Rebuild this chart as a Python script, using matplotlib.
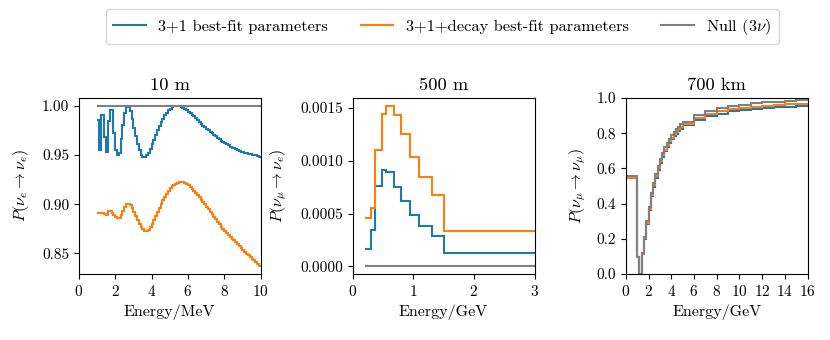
import numpy as np
import matplotlib
matplotlib.use("Agg")
import matplotlib.pyplot as plt
from matplotlib.ticker import FormatStrFormatter

plt.rcParams['font.family'] = ['cmr10', 'DejaVu Serif']
plt.rcParams['mathtext.fontset'] = 'cm'
plt.rcParams['axes.formatter.use_mathtext'] = True
plt.rcParams['axes.unicode_minus'] = False

# ---------------- Panel 1: 10 m (reactor) ----------------
e1_edges = np.round(np.arange(1.0, 10.0001, 0.1), 2)
p1_31 = [0.986, 0.955, 0.991, 0.991, 0.968, 0.953, 0.985, 0.996, 0.996, 0.972,
         0.955, 0.950, 0.952, 0.966, 0.981, 0.993, 0.999, 1.000, 0.995, 0.987,
         0.978, 0.969, 0.961, 0.955, 0.950, 0.948, 0.948, 0.950, 0.952, 0.956,
         0.961, 0.965, 0.970, 0.975, 0.980, 0.984, 0.987, 0.991, 0.993, 0.996,
         0.997, 0.999, 1.000, 1.000, 1.000, 1.000, 0.999, 0.998, 0.997, 0.996,
         0.994, 0.993, 0.991, 0.990, 0.988, 0.986, 0.984, 0.982, 0.980, 0.979,
         0.977, 0.975, 0.973, 0.972, 0.970, 0.969, 0.967, 0.966, 0.964, 0.963,
         0.962, 0.961, 0.960, 0.958, 0.957, 0.957, 0.956, 0.955, 0.954, 0.953,
         0.953, 0.952, 0.952, 0.951, 0.951, 0.950, 0.950, 0.950, 0.949, 0.948]
p1_decay = [0.891, 0.891, 0.891, 0.891, 0.890, 0.889, 0.893, 0.893, 0.891, 0.889,
            0.887, 0.886, 0.886, 0.889, 0.893, 0.897, 0.900, 0.900, 0.899, 0.896,
            0.892, 0.888, 0.884, 0.880, 0.877, 0.875, 0.873, 0.873, 0.874, 0.877,
            0.880, 0.884, 0.888, 0.892, 0.896, 0.900, 0.904, 0.907, 0.910, 0.913,
            0.916, 0.918, 0.920, 0.921, 0.922, 0.923, 0.923, 0.923, 0.922, 0.921,
            0.919, 0.917, 0.915, 0.913, 0.911, 0.909, 0.907, 0.904, 0.902, 0.900,
            0.897, 0.895, 0.892, 0.890, 0.887, 0.885, 0.882, 0.880, 0.877, 0.875,
            0.873, 0.871, 0.869, 0.867, 0.865, 0.863, 0.861, 0.859, 0.857, 0.855,
            0.853, 0.851, 0.849, 0.848, 0.846, 0.844, 0.843, 0.841, 0.839, 0.837]
p1_null = [1.0] * 90

# ---------------- Panel 2: 500 m (appearance) ----------------
e2_edges = [0.2, 0.3, 0.375, 0.475, 0.55, 0.675, 0.8, 0.95, 1.1, 1.3, 1.5, 3.0]
p2_31 = [0.000167, 0.00034, 0.00076, 0.00091, 0.00089, 0.00075,
         0.00062, 0.00049, 0.00038, 0.00029, 0.00013]
p2_decay = [0.000457, 0.00055, 0.00110, 0.00144, 0.00152, 0.00143,
            0.00125, 0.00104, 0.00085, 0.00068, 0.00033]
p2_null = [0.000002] * 11

# ---------------- Panel 3: 700 km (disappearance) ----------------
e3_edges = [0.0] + list(np.round(np.arange(1.0, 5.0001, 0.2), 1)) + list(np.arange(6.0, 16.0001, 1.0))
p3_null = [0.555, 0.098, 0.0, 0.118, 0.21, 0.30, 0.38, 0.46, 0.515, 0.568,
           0.614, 0.653, 0.689, 0.72, 0.746, 0.769, 0.788, 0.807, 0.822, 0.837,
           0.850, 0.865, 0.903, 0.926, 0.941, 0.955, 0.962, 0.970, 0.976, 0.979,
           0.983, 0.986]
p3_decay = [0.548, 0.097, 0.0, 0.114, 0.203, 0.291, 0.370, 0.449, 0.503, 0.555,
            0.601, 0.640, 0.675, 0.706, 0.732, 0.755, 0.774, 0.793, 0.808, 0.823,
            0.836, 0.853, 0.887, 0.909, 0.923, 0.936, 0.943, 0.951, 0.956, 0.959,
            0.963, 0.966]
p3_31 = [0.543, 0.096, 0.0, 0.111, 0.199, 0.286, 0.364, 0.442, 0.496, 0.547,
         0.593, 0.631, 0.666, 0.697, 0.722, 0.745, 0.764, 0.782, 0.797, 0.812,
         0.825, 0.844, 0.877, 0.897, 0.911, 0.924, 0.931, 0.938, 0.943, 0.946,
         0.950, 0.952]

labels = ["3+1 best-fit parameters", "3+1+decay best-fit parameters", r"Null ($3\nu$)"]
colors = ["#1f77b4", "#ff7f0e", "grey"]

fig = plt.figure(figsize=(8.3, 3.4), dpi=100)
w = 0.219
bottom = 0.194
h = 0.518
ax1 = fig.add_axes([0.095, bottom, w, h])
ax2 = fig.add_axes([0.425, bottom, w, h])
ax3 = fig.add_axes([0.754, bottom, w, h])

lw = 1.5
for vals, c, lab in zip([p1_31, p1_decay, p1_null], colors, labels):
    ax1.stairs(vals, e1_edges, baseline=None, color=c, lw=lw, label=lab)
for vals, c in zip([p2_31, p2_decay, p2_null], colors):
    ax2.stairs(vals, e2_edges, baseline=None, color=c, lw=lw)
for vals, c in zip([p3_31, p3_decay, p3_null], colors):
    ax3.stairs(vals, e3_edges, baseline=None, color=c, lw=lw)

tfs, lfs, kfs = 13.3, 11.5, 11

ax1.set_xlim(0, 10)
ax1.set_xticks([0, 2, 4, 6, 8, 10])
ax1.yaxis.set_major_formatter(FormatStrFormatter('%.2f'))
ax1.set_yticks([0.85, 0.90, 0.95, 1.00])
ax1.set_title("10 m", fontsize=tfs)
ax1.set_xlabel("Energy/MeV", fontsize=lfs)
ax1.set_ylabel(r"$P(\nu_e \to \nu_e)$", fontsize=lfs, labelpad=8)

ax2.set_xlim(0, 3)
ax2.set_xticks([0, 1, 2, 3])
ax2.set_yticks([0.0, 0.0005, 0.0010, 0.0015])
ax2.yaxis.set_major_formatter(FormatStrFormatter('%.4f'))
ax2.set_title("500 m", fontsize=tfs)
ax2.set_xlabel("Energy/GeV", fontsize=lfs)
ax2.set_ylabel(r"$P(\nu_\mu \to \nu_e)$", fontsize=lfs, labelpad=8)

ax3.set_xlim(0, 16)
ax3.set_ylim(0, 1)
ax3.set_xticks(list(range(0, 17, 2)))
ax3.set_yticks([0, 0.2, 0.4, 0.6, 0.8, 1.0])
ax3.yaxis.set_major_formatter(FormatStrFormatter('%.1f'))
ax3.set_title("700 km", fontsize=tfs)
ax3.set_xlabel("Energy/GeV", fontsize=lfs)
ax3.set_ylabel(r"$P(\nu_\mu \to \nu_\mu)$", fontsize=lfs, labelpad=6)

for ax in (ax1, ax2, ax3):
    ax.tick_params(labelsize=kfs)

h_, l_ = ax1.get_legend_handles_labels()
leg = fig.legend(h_, l_, loc='center', bbox_to_anchor=(0.533, 0.922), ncol=3,
                 fontsize=11.8, frameon=True, fancybox=True, handlelength=2.0,
                 handletextpad=0.75, columnspacing=2.0, borderpad=0.45)

fig.savefig("out.png", dpi=100)
